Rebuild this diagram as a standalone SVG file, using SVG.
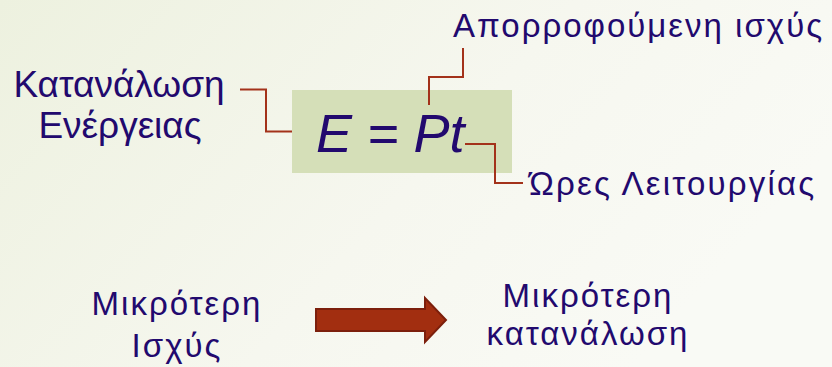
<svg xmlns="http://www.w3.org/2000/svg" width="832" height="367" viewBox="0 0 832 367">
<defs>
<linearGradient id="bg" x1="0" y1="0" x2="1" y2="0.4">
<stop offset="0" stop-color="#edf1df"/>
<stop offset="0.6" stop-color="#f6f7ef"/>
<stop offset="1" stop-color="#f9faf5"/>
</linearGradient>
<style>
.t{font-family:"Liberation Sans",Arial,sans-serif;fill:#22096e}
.b{font-family:"Liberation Sans",Arial,sans-serif;fill:#22096e;font-size:33px;letter-spacing:2px}
.c{fill:none;stroke:#a3321a;stroke-width:2}
</style>
</defs>
<rect width="832" height="367" fill="url(#bg)"/>
<g id="formula">
<rect x="292" y="90" width="220" height="83" fill="#d5dfb8"/>
<text class="t" x="316" y="152" font-size="54" font-style="italic">E = Pt</text>
</g>
<g id="energy">
<text class="t" x="119" y="97" font-size="37" text-anchor="middle">Κατανάλωση</text>
<text class="t" x="120" y="138" font-size="37" text-anchor="middle">Ενέργειας</text>
</g>
<g id="power">
<text class="t" x="453" y="37" font-size="33" letter-spacing="2">Απορροφούμενη ισχύς</text>
</g>
<g id="hours">
<text class="t" x="529" y="195" font-size="33" letter-spacing="2.2">Ώρες Λειτουργίας</text>
</g>
<g id="lowpower">
<text class="b" x="177" y="315" text-anchor="middle">Μικρότερη</text>
<text class="b" x="177" y="357" text-anchor="middle">Ισχύς</text>
</g>
<g id="lowconsumption">
<text class="b" x="588" y="307" text-anchor="middle">Μικρότερη</text>
<text class="b" x="588" y="345" text-anchor="middle">κατανάλωση</text>
</g>
<g id="connectors">
<polyline class="c" points="240,89.5 266,89.5 266,131.5 292,131.5"/>
<polyline class="c" points="463,48 463,77 429,77 429,105"/>
<polyline class="c" points="465,144 495,144 495,183 523,183"/>
<polygon points="316,309 425,309 425,298 446,320 425,342 425,331 316,331" fill="#a22e10" stroke="#7c1f0c" stroke-width="2"/>
</g>
</svg>
